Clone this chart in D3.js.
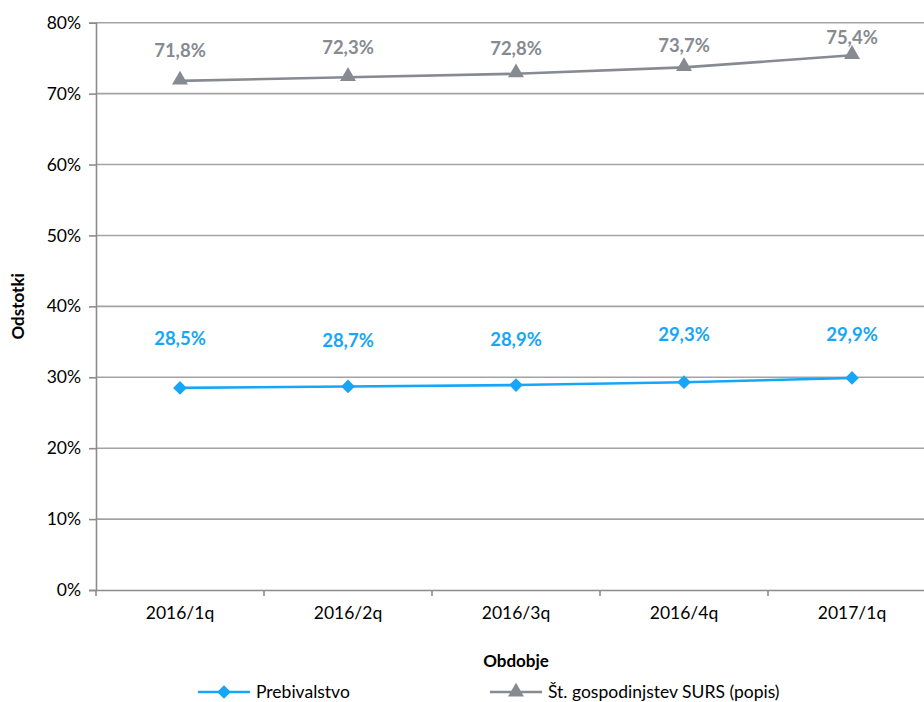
<!DOCTYPE html>
<html>
<head>
<meta charset="utf-8">
<script src="https://cdn.jsdelivr.net/npm/d3@7"></script>
<style>
  html, body { margin: 0; padding: 0; background: #fff; }
  svg { display: block; font-family: Lato, "Open Sans", sans-serif; }
</style>
</head>
<body>
<svg id="chart" width="924" height="702"></svg>
<script>
// Quarterly share (%) by period
const periods = ["2016/1q", "2016/2q", "2016/3q", "2016/4q", "2017/1q"];
const prebivalstvo = [28.5, 28.7, 28.9, 29.3, 29.9];
const gospodinjstva = [71.8, 72.3, 72.8, 73.7, 75.4];
const yTicks = [0, 10, 20, 30, 40, 50, 60, 70, 80];
const seriesNames = ["Prebivalstvo", "Št. gospodinjstev SURS (popis)"];

// Hand-placed value labels: distance (px) of each label's centre above its point
const liftPrebivalstvo = [49, 46, 46, 48, 43];
const liftGospodinjstva = [30, 30, 25, 22, 18];

const blue = "#17a6f7";
const grey = "#868a91";
const FONT = "Lato, 'Open Sans', sans-serif";

const svg = d3.select("#chart");
const m = { left: 96, right: 936, top: 22.7, bottom: 590 };

const x = d3.scaleBand().domain(periods).range([m.left, m.right]);
const y = d3.scaleLinear().domain([0, 80]).range([m.bottom, m.top]);
const cx = d => x(d) + x.bandwidth() / 2;

// horizontal gridlines
svg.append("g").selectAll("line").data(yTicks.filter(t => t > 0)).join("line")
  .attr("x1", m.left).attr("x2", 924)
  .attr("y1", d => y(d)).attr("y2", d => y(d))
  .attr("stroke", "#a3a3a3").attr("stroke-width", 1.6);

// y axis
const yAxis = svg.append("g").attr("transform", `translate(${m.left},0)`)
  .call(d3.axisLeft(y).tickValues(yTicks).tickFormat(d => d + "%").tickSize(7).tickPadding(8));
yAxis.select(".domain").attr("stroke", "#8c8c8c").attr("stroke-width", 1.6);
yAxis.selectAll(".tick line").attr("stroke", "#8c8c8c").attr("stroke-width", 1.6);
yAxis.selectAll(".tick text").attr("font-size", 17.5).attr("fill", "#000")
  .attr("font-family", FONT);

// x axis
const xAxis = svg.append("g").attr("transform", `translate(0,${m.bottom})`)
  .call(d3.axisBottom(x).tickSize(0).tickPadding(17));
xAxis.select(".domain").attr("stroke", "#8c8c8c").attr("stroke-width", 1.6);
xAxis.selectAll(".tick text").attr("font-size", 17.5).attr("fill", "#000")
  .attr("font-family", FONT);
// category boundary ticks
svg.append("g").selectAll("line").data(periods.concat([null])).join("line")
  .attr("x1", (d, i) => m.left + i * x.bandwidth())
  .attr("x2", (d, i) => m.left + i * x.bandwidth())
  .attr("y1", m.bottom).attr("y2", m.bottom + 6)
  .attr("stroke", "#8c8c8c").attr("stroke-width", 1.6);

// axis titles
svg.append("text").attr("transform", `translate(24,${(m.top + m.bottom) / 2}) rotate(-90)`)
  .attr("text-anchor", "middle").attr("font-weight", "bold").attr("font-size", 17)
  .text("Odstotki");
svg.append("text").attr("x", 516).attr("y", 667)
  .attr("text-anchor", "middle").attr("font-weight", "bold").attr("font-size", 17)
  .text("Obdobje");

const line = d3.line().x((d, i) => cx(periods[i])).y(d => y(d));
const fmt = v => d3.format(".1f")(v).replace(".", ",") + "%";

const diamond = d3.symbol().type(d3.symbolDiamond2).size(120);
const triangle = d3.symbol().type(d3.symbolTriangle).size(110);

// Prebivalstvo series
svg.append("path").datum(prebivalstvo).attr("d", line)
  .attr("fill", "none").attr("stroke", blue).attr("stroke-width", 2.6);
svg.append("g").selectAll("path").data(prebivalstvo).join("path")
  .attr("d", diamond)
  .attr("transform", (d, i) => `translate(${cx(periods[i])},${y(d)})`)
  .attr("fill", blue);
svg.append("g").selectAll("text").data(prebivalstvo).join("text")
  .attr("x", (d, i) => cx(periods[i]))
  .attr("y", (d, i) => y(d) - liftPrebivalstvo[i])
  .attr("dy", "0.35em")
  .attr("text-anchor", "middle").attr("font-weight", "bold").attr("font-size", 18.5)
  .attr("fill", blue).text(fmt);

// Gospodinjstva series
svg.append("path").datum(gospodinjstva).attr("d", line)
  .attr("fill", "none").attr("stroke", grey).attr("stroke-width", 2.6);
svg.append("g").selectAll("path").data(gospodinjstva).join("path")
  .attr("d", triangle)
  .attr("transform", (d, i) => `translate(${cx(periods[i])},${y(d) - 1})`)
  .attr("fill", grey);
svg.append("g").selectAll("text").data(gospodinjstva).join("text")
  .attr("x", (d, i) => cx(periods[i]))
  .attr("y", (d, i) => y(d) - liftGospodinjstva[i])
  .attr("dy", "0.35em")
  .attr("text-anchor", "middle").attr("font-weight", "bold").attr("font-size", 18.5)
  .attr("fill", grey).text(fmt);

// legend
const legend = [
  { name: seriesNames[0], color: blue, sym: diamond, x: 198 },
  { name: seriesNames[1], color: grey, sym: triangle, x: 490 }
];
const lg = svg.append("g").selectAll("g").data(legend).join("g")
  .attr("transform", d => `translate(${d.x},692)`);
lg.append("line").attr("x1", 0).attr("x2", 52).attr("y1", 0).attr("y2", 0)
  .attr("stroke", d => d.color).attr("stroke-width", 2.6);
lg.append("path").attr("d", d => d.sym()).attr("transform", "translate(26,0)")
  .attr("fill", d => d.color);
lg.append("text").attr("x", 58).attr("y", 0).attr("dy", "0.35em")
  .attr("font-size", 17.5).attr("fill", "#000").text(d => d.name);
</script>
</body>
</html>
